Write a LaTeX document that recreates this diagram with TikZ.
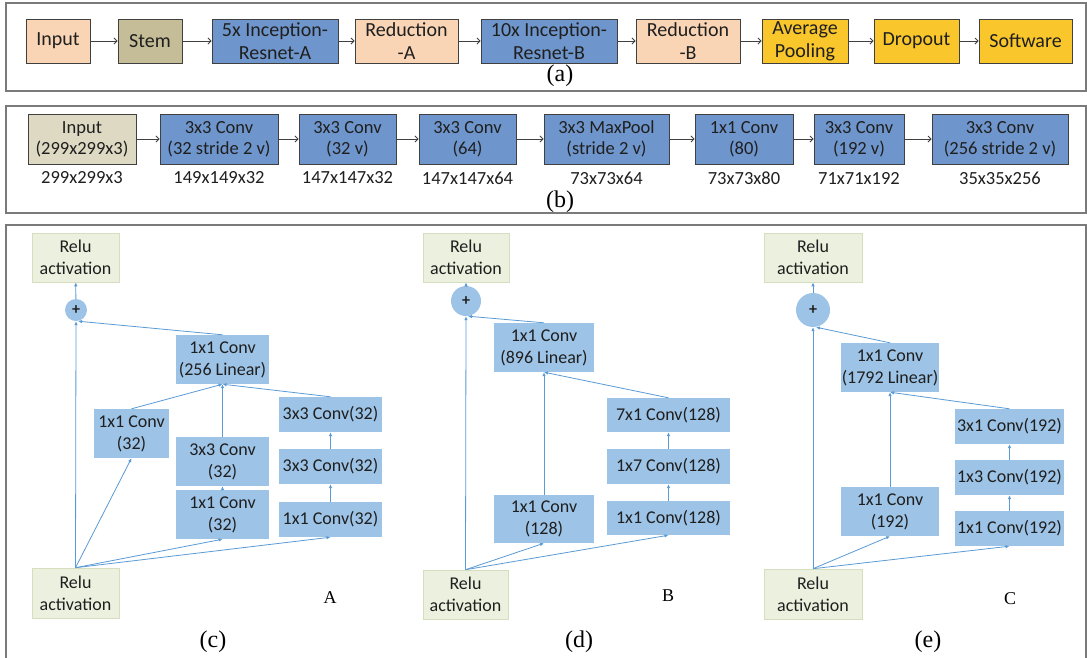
\documentclass[tikz,border=0pt]{standalone}
\usepackage{fontspec}
\setmainfont{Carlito}
\newfontfamily\tms{Liberation Serif}
\usetikzlibrary{arrows.meta}
\definecolor{peach}{HTML}{F9D5B5}
\definecolor{stemc}{HTML}{C4BD97}
\definecolor{blueA}{HTML}{6F96CC}
\definecolor{yell}{HTML}{F9C62B}
\definecolor{inB}{HTML}{DDD9C3}
\definecolor{lblue}{HTML}{9DC3E6}
\definecolor{relug}{HTML}{EBF1DE}
\definecolor{relub}{HTML}{D5DFC0}
\definecolor{lineb}{HTML}{5B9BD5}
\definecolor{frm}{HTML}{7A7A7A}
\definecolor{txt}{HTML}{1F1F1F}
\tikzset{
  abox/.style={draw=black!75, line width=0.9pt, inner sep=0pt, align=center, text=txt,
    minimum height=44pt, font=\fontsize{20}{23}\selectfont},
  bbox/.style={draw=black!75, line width=0.9pt, inner sep=0pt, align=center, text=txt,
    minimum height=50pt, fill=blueA, font=\fontsize{18.5}{21}\selectfont},
  sublbl/.style={inner sep=0pt, text=txt, font=\fontsize{18.5}{21}\selectfont},
  cbox/.style={fill=lblue, inner sep=0pt, align=center, text=txt, font=\fontsize{18}{22}\selectfont},
  relu/.style={fill=relug, draw=relub, line width=0.6pt, inner sep=0pt, align=center, text=txt,
    font=\fontsize{18}{22}\selectfont},
  plusc/.style={circle, fill=lblue, inner sep=0pt, text=txt, font=\fontsize{16}{16}\selectfont\bfseries},
  arr/.style={draw=black!75, line width=0.8pt, -{Straight Barb[length=3pt,width=6pt]}},
  carr/.style={draw=lineb, line width=0.8pt, -{Latex[length=4pt,width=3.5pt]}},
  capt/.style={inner sep=0pt, text=black, font=\tms\fontsize{24}{24}\selectfont},
  captl/.style={inner sep=0pt, text=black, font=\tms\fontsize{18}{18}\selectfont},
  frm line/.style={draw=frm, line width=1.3pt}
}
\begin{document}
\begin{tikzpicture}[x=1pt,y=-1pt]
\useasboundingbox[fill=white] (0,0) rectangle (1087,657);
% frames
\draw[frm line] (6,3) rectangle (1086,91);
\draw[frm line] (6,106) rectangle (1086,213);
\draw[frm line] (6,665) -- (6,225) -- (1086,225) -- (1086,665);

% ---------------- (a)
\node[abox, fill=peach, minimum width=64pt] (ain) at (58,41) {Input};
\node[abox, fill=stemc, minimum width=64pt] (astem) at (150,41) {Stem};
\node[abox, fill=blueA, minimum width=126pt] (aincA) at (275,41) {5x Inception-\\Resnet-A};
\node[abox, fill=peach, minimum width=103pt] (aredA) at (406.5,41) {Reduction\\-A};
\node[abox, fill=blueA, minimum width=136pt] (aincB) at (549,41) {10x Inception-\\Resnet-B};
\node[abox, fill=peach, minimum width=104pt] (aredB) at (688,41) {Reduction\\-B};
\node[abox, fill=yell, minimum width=86pt] (aavg) at (805,41) {Average\\Pooling};
\node[abox, fill=yell, minimum width=85pt] (adrop) at (916.5,41) {Dropout};
\node[abox, fill=yell, minimum width=93pt] (asoft) at (1025.5,41) {Software};
\draw[arr] (ain) -- (astem);
\draw[arr] (astem) -- (aincA);
\draw[arr] (aincA) -- (aredA);
\draw[arr] (aredA) -- (aincB);
\draw[arr] (aincB) -- (aredB);
\draw[arr] (aredB) -- (aavg);
\draw[arr] (aavg) -- (adrop);
\draw[arr] (adrop) -- (asoft);
\node[capt] (capa) at (560,76) {(a)};

% ---------------- (b)
\node[bbox, fill=inB, minimum width=108pt] (bin) at (82,139) {Input\\(299x299x3)};
\node[bbox, minimum width=118pt] (b1) at (219,139) {3x3 Conv\\(32 stride 2 v)};
\node[bbox, minimum width=97pt] (b2) at (347.5,139) {3x3 Conv\\(32 v)};
\node[bbox, minimum width=97pt] (b3) at (467.5,139) {3x3 Conv\\(64)};
\node[bbox, minimum width=125pt] (b4) at (606.5,139) {3x3 MaxPool\\(stride 2 v)};
\node[bbox, minimum width=98pt] (b5) at (744,139) {1x1 Conv\\(80)};
\node[bbox, minimum width=90pt] (b6) at (859,139) {3x3 Conv\\(192 v)};
\node[bbox, minimum width=136pt] (b7) at (1000,139) {3x3 Conv\\(256 stride 2 v)};
\draw[arr] (bin) -- (b1);
\draw[arr] (b1) -- (b2);
\draw[arr] (b2) -- (b3);
\draw[arr] (b3) -- (b4);
\draw[arr] (b4) -- (b5);
\draw[arr] (b5) -- (b6);
\draw[arr] (b6) -- (b7);
\node[sublbl] (s0) at (82,178) {299x299x3};
\node[sublbl] (s1) at (219,178) {149x149x32};
\node[sublbl] (s2) at (347.5,178) {147x147x32};
\node[sublbl] (s3) at (467.5,178) {147x147x64};
\node[sublbl] (s4) at (606.5,178) {73x73x64};
\node[sublbl] (s5) at (744,178) {73x73x80};
\node[sublbl] (s6) at (859,178) {71x71x192};
\node[sublbl] (s7) at (1000,178) {35x35x256};
\node[capt] (capb) at (560,202) {(b)};

% ---------------- (c)
\node[relu, minimum width=87pt, minimum height=49pt] (crt) at (75.5,257.5) {Relu\\activation};
\node[plusc, minimum size=22pt] (cplus) at (76,310) {+};
\node[cbox, minimum width=93pt, minimum height=49pt] (clin) at (222.5,359.5) {1x1 Conv\\(256 Linear)};
\node[cbox, minimum width=75pt, minimum height=49pt] (cl) at (131.5,433.5) {1x1 Conv\\(32)};
\node[cbox, minimum width=93pt, minimum height=49pt] (cm2) at (222.5,461.5) {3x3 Conv\\(32)};
\node[cbox, minimum width=93pt, minimum height=49pt] (cm1) at (222.5,514.5) {1x1 Conv\\(32)};
\node[cbox, minimum width=103pt, minimum height=35pt] (cr3) at (330.5,414.5) {3x3 Conv(32)};
\node[cbox, minimum width=103pt, minimum height=35pt] (cr2) at (330.5,466.5) {3x3 Conv(32)};
\node[cbox, minimum width=103pt, minimum height=35pt] (cr1) at (330.5,519.5) {1x1 Conv(32)};
\node[relu, minimum width=87pt, minimum height=50pt] (crb) at (75.5,593) {Relu\\activation};
\draw[carr] (crb.north) -- (cplus.south);
\draw[carr] (crb.north) -- (cl.south);
\draw[carr] (crb.north) -- (cm1.south);
\draw[carr] (crb.north) -- (cr1.south);
\draw[carr] (cr1) -- (cr2);
\draw[carr] (cr2) -- (cr3);
\draw[carr] (cm1) -- (cm2);
\draw[carr] (cl.north) -- (clin.south);
\draw[carr] (cm2) -- (clin);
\draw[carr] (cr3.north) -- (clin.south);
\draw[carr] (clin.north) -- ([xshift=2pt]cplus.south);
\draw[carr] (cplus) -- (crt);
\node[captl] (labA) at (330,598) {A};
\node[capt] (capc) at (213,642) {(c)};

% ---------------- (d)
\node[relu, minimum width=86pt, minimum height=49pt] (drt) at (466,257.5) {Relu\\activation};
\node[plusc, minimum size=30pt] (dplus) at (466,301) {+};
\node[cbox, minimum width=100pt, minimum height=49pt] (dlin) at (544,347.5) {1x1 Conv\\(896 Linear)};
\node[cbox, minimum width=123pt, minimum height=34pt] (dr3) at (668.5,415) {7x1 Conv(128)};
\node[cbox, minimum width=123pt, minimum height=35pt] (dr2) at (668.5,466.5) {1x7 Conv(128)};
\node[cbox, minimum width=123pt, minimum height=34pt] (dr1) at (668.5,518) {1x1 Conv(128)};
\node[cbox, minimum width=100pt, minimum height=48pt] (dm) at (544,519) {1x1 Conv\\(128)};
\node[relu, minimum width=85pt, minimum height=49pt] (drb) at (465.5,594.5) {Relu\\activation};
\draw[carr] (drb.north) -- (dplus.south);
\draw[carr] (drb.north) -- (dm.south);
\draw[carr] (drb.north) -- (dr1.south);
\draw[carr] (dr1) -- (dr2);
\draw[carr] (dr2) -- (dr3);
\draw[carr] (dm) -- (dlin);
\draw[carr] (dr3.north) -- (dlin.south);
\draw[carr] (dlin.north) -- ([xshift=2pt]dplus.south);
\draw[carr] (dplus) -- (drt);
\node[captl] (labB) at (668,596) {B};
\node[capt] (capd) at (579,642) {(d)};

% ---------------- (e)
\node[relu, minimum width=98pt, minimum height=49pt] (ert) at (813,257.5) {Relu\\activation};
\node[plusc, minimum size=34pt] (eplus) at (813,310) {+};
\node[cbox, minimum width=98pt, minimum height=49pt] (elin) at (890,367.5) {1x1 Conv\\(1792 Linear)};
\node[cbox, minimum width=109pt, minimum height=35pt] (er3) at (1009.5,426.5) {3x1 Conv(192)};
\node[cbox, minimum width=109pt, minimum height=35pt] (er2) at (1009.5,477.5) {1x3 Conv(192)};
\node[cbox, minimum width=109pt, minimum height=35pt] (er1) at (1009.5,528.5) {1x1 Conv(192)};
\node[cbox, minimum width=98pt, minimum height=49pt] (em) at (890,511.5) {1x1 Conv\\(192)};
\node[relu, minimum width=98pt, minimum height=50pt] (erb) at (813,594) {Relu\\activation};
\draw[carr] (erb.north) -- (eplus.south);
\draw[carr] (erb.north) -- (em.south);
\draw[carr] (erb.north) -- (er1.south);
\draw[carr] (er1) -- (er2);
\draw[carr] (er2) -- (er3);
\draw[carr] (em) -- (elin);
\draw[carr] (er3.north) -- (elin.south);
\draw[carr] (elin.north) -- ([xshift=3pt]eplus.south);
\draw[carr] (eplus) -- (ert);
\node[captl] (labC) at (1010,599) {C};
\node[capt] (cape) at (928,642) {(e)};
\end{tikzpicture}
\end{document}
